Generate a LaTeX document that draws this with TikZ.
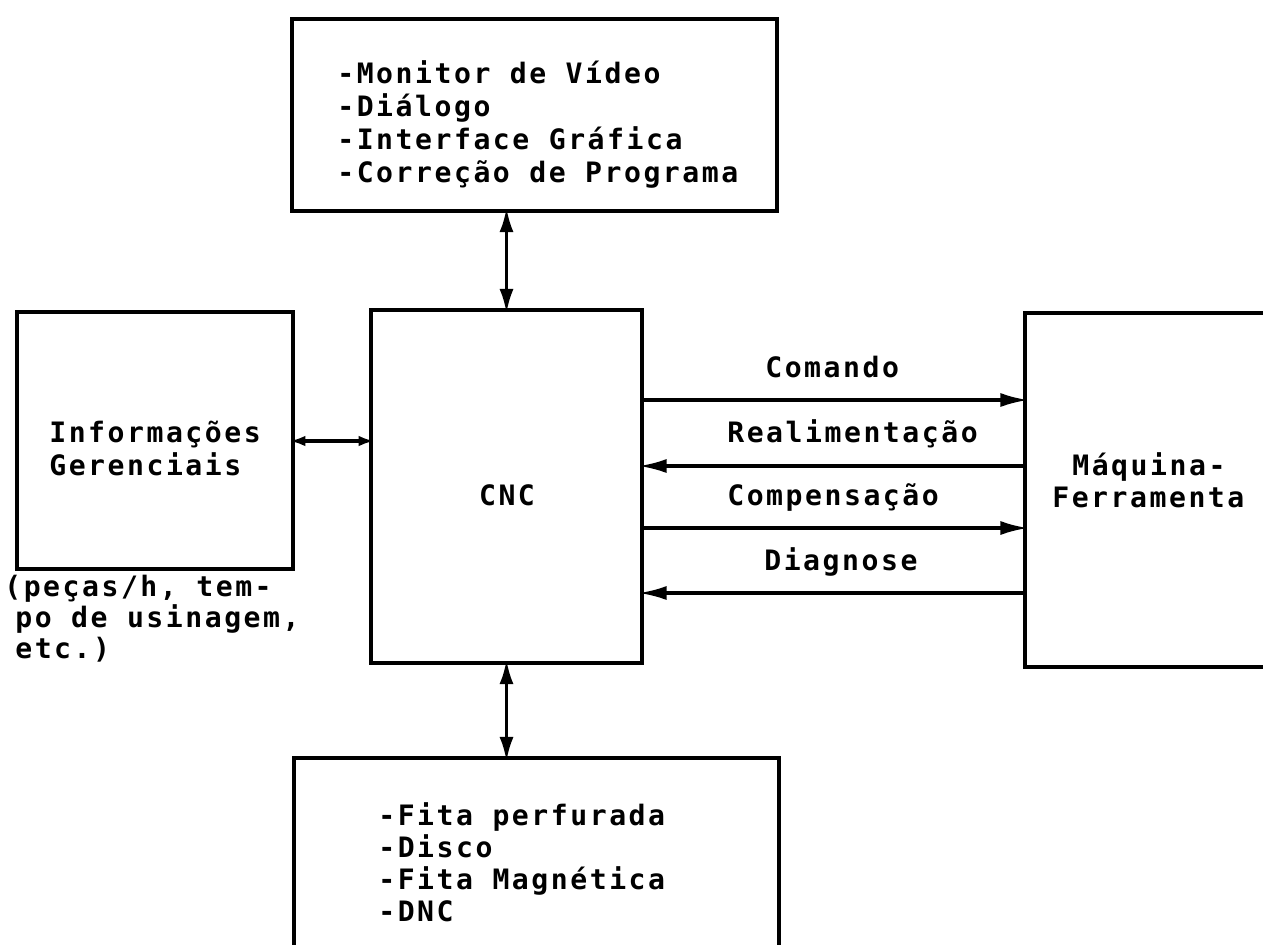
\documentclass[tikz,border=0pt]{standalone}
\usepackage{fontspec}
\newfontfamily\dotfont{DejaVu Sans Mono}[LetterSpace=9]
\usetikzlibrary{arrows.meta,fit}

\tikzset{
  box/.style={draw, line width=2pt, inner sep=0pt, outer sep=0pt},
  txt/.style={font=\dotfont\bfseries\fontsize{16}{18.8}\selectfont, inner sep=0pt, anchor=base west},
  flow/.style={line width=2pt, -{Latex[length=16pt,width=8pt]}, shorten >=-2pt},
  link/.style={line width=2pt, {Latex[length=14pt,width=8pt]}-{Latex[length=14pt,width=8pt]}, shorten >=-2pt, shorten <=-2pt},
  shortlink/.style={line width=1.8pt, {Latex[length=9pt,width=6pt]}-{Latex[length=9pt,width=6pt]}, shorten >=-2pt, shorten <=-2pt}
}

\begin{document}
\begin{tikzpicture}[x=0.02cm, y=-0.02cm]
  \useasboundingbox (0,0) rectangle (1263,944);
  \clip (0,0) rectangle (1263,944);

  % Blocks
  \node[box, fit={(292,19) (777,211)}] (interface) {};
  \node[box, fit={(17,312) (293,569)}] (info) {};
  \node[box, fit={(371,310) (642,663)}] (cnc) {};
  \node[box, fit={(1025,313) (1330,667)}] (machine) {};
  \node[box, fit={(294,758) (779,1010)}] (media) {};

  % Texts of the blocks
  \foreach \t [count=\i] in {-Monitor de Vídeo, -Diálogo, -Interface Gráfica, -Correção de Programa}
    \node[txt] (iface\i) at (337, {83+33*(\i-1)}) {\t};
  \foreach \t [count=\i] in {-Fita perfurada, -Disco, -Fita Magnética, -DNC}
    \node[txt] (media\i) at (378, {825+32*(\i-1)}) {\t};
  \node[txt] (info1) at (49,442) {Informações};
  \node[txt] (info2) at (49,475) {Gerenciais};
  \node[txt] (note1) at (4,596) {(peças/h, tem-};
  \node[txt] (note2) at (15,627) {po de usinagem,};
  \node[txt] (note3) at (15,658) {etc.)};
  \node[txt, anchor=base] (cnclabel) at (507,505) {CNC};
  \node[txt] (mach1) at (1072,475) {Máquina-};
  \node[txt] (mach2) at (1052,507) {Ferramenta};

  % Signals between CNC and machine
  \coordinate (ycom) at (0,400);
  \coordinate (yfeed) at (0,466);
  \coordinate (ycomp) at (0,528);
  \coordinate (ydiag) at (0,593);
  \draw[flow] (cnc.east |- ycom) -- (machine.west |- ycom);
  \draw[flow] (machine.west |- yfeed) -- (cnc.east |- yfeed);
  \draw[flow] (cnc.east |- ycomp) -- (machine.west |- ycomp);
  \draw[flow] (machine.west |- ydiag) -- (cnc.east |- ydiag);
  \node[txt] (com) at (765,377) {Comando};
  \node[txt] (feed) at (727,442) {Realimentação};
  \node[txt] (comp) at (727,505) {Compensação};
  \node[txt] (diag) at (764,570) {Diagnose};

  % Two-way links
  \draw[link] (interface.south -| cnc.north) -- (cnc.north);
  \draw[link] (cnc.south) -- (cnc.south |- media.north);
  \draw[shortlink] (info.east |- 0,441) -- (cnc.west |- 0,441);
\end{tikzpicture}
\end{document}
